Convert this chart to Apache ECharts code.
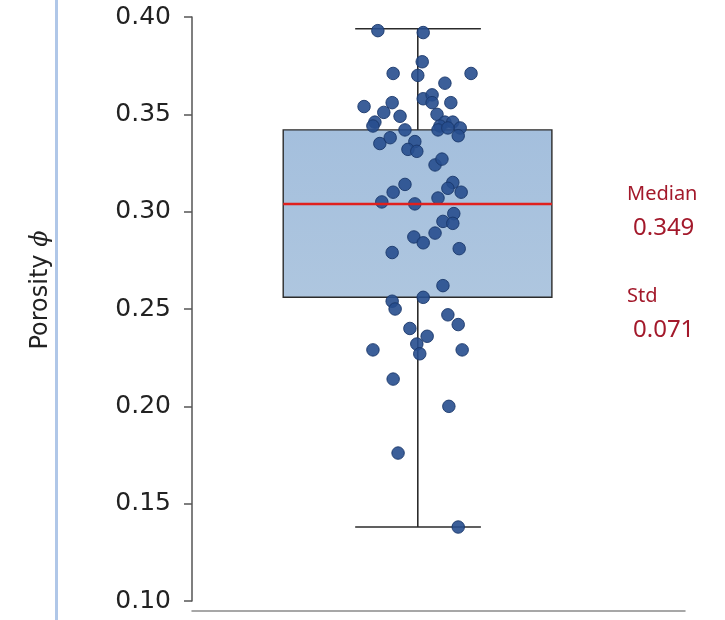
<!DOCTYPE html>
<html>
<head>
<meta charset="utf-8">
<script src="https://cdn.jsdelivr.net/npm/echarts@6/dist/echarts.min.js"></script>
<style>
  html, body { margin: 0; padding: 0; background: #fff; }
  #chart { width: 725px; height: 620px; }
</style>
</head>
<body>
<div id="chart"></div>
<script>
// y axis ticks
const yTicks = [0.10, 0.15, 0.20, 0.25, 0.30, 0.35, 0.40]

// box stats: [lower whisker, Q1, median, Q3, upper whisker]
const boxStats = [0.138, 0.256, 0.304, 0.342, 0.394]

// individual samples (porosity) and their horizontal jitter (0..1 across the plot)
const porosity = [
  0.393, 0.392, 0.377, 0.371, 0.370, 0.371, 0.366, 0.358, 0.360, 0.356,
  0.356, 0.354, 0.356, 0.351, 0.349, 0.346, 0.350, 0.346, 0.346, 0.343,
  0.344, 0.344, 0.342, 0.342, 0.343, 0.339, 0.335, 0.338, 0.336, 0.332,
  0.331, 0.324, 0.327, 0.314, 0.310, 0.305, 0.315, 0.312, 0.310, 0.304,
  0.307, 0.299, 0.295, 0.294, 0.289, 0.287, 0.284, 0.279, 0.281, 0.262,
  0.256, 0.254, 0.250, 0.247, 0.242, 0.240, 0.236, 0.232, 0.227, 0.229,
  0.229, 0.214, 0.200, 0.176, 0.138
]
const jitter = [
  0.377, 0.469, 0.467, 0.408, 0.458, 0.566, 0.513, 0.469, 0.487, 0.487,
  0.525, 0.349, 0.406, 0.389, 0.422, 0.371, 0.497, 0.513, 0.529, 0.544,
  0.503, 0.367, 0.432, 0.499, 0.519, 0.540, 0.381, 0.402, 0.452, 0.438,
  0.456, 0.493, 0.507, 0.432, 0.408, 0.385, 0.529, 0.519, 0.546, 0.452,
  0.499, 0.531, 0.509, 0.529, 0.493, 0.450, 0.469, 0.406, 0.542, 0.509,
  0.469, 0.406, 0.412, 0.519, 0.540, 0.442, 0.477, 0.456, 0.462, 0.367,
  0.548, 0.408, 0.521, 0.418, 0.540
]

const notes = ['Median', '0.349', 'Std', '0.071']

// box layout along the hidden x axis
const boxLeft = 0.185
const boxRight = 0.730
const whiskerX = 0.458
const capLeft = 0.331
const capRight = 0.586

const chart = echarts.init(document.getElementById('chart'))

const points = porosity.map((v, i) => [jitter[i], v])
const noteColor = '#a3192b'

const option = {
  backgroundColor: '#ffffff',
  animation: false,
  grid: { left: 192, right: 40, top: 17, bottom: 19 },
  xAxis: {
    type: 'value',
    min: 0,
    max: 1,
    offset: 10,
    axisLine: { show: true, lineStyle: { color: '#8a8a8a', width: 1.5 } },
    axisTick: { show: false },
    axisLabel: { show: false },
    splitLine: { show: false }
  },
  yAxis: {
    type: 'value',
    min: yTicks[0],
    max: yTicks[yTicks.length - 1],
    interval: 0.05,
    axisLine: { show: true, lineStyle: { color: '#555', width: 1.5 } },
    axisTick: { show: true, length: 8, lineStyle: { color: '#555', width: 1.5 } },
    axisLabel: {
      margin: 21,
      fontFamily: 'DejaVu Sans',
      fontSize: 25,
      color: '#222',
      formatter: v => v.toFixed(2)
    },
    splitLine: { show: false }
  },
  graphic: [
    {
      type: 'rect',
      left: 55, top: 0,
      shape: { width: 3, height: 620 },
      style: { fill: '#b0c7e8' },
      silent: true
    },
    {
      // y axis title
      type: 'text',
      x: 41, y: 290,
      rotation: Math.PI / 2,
      style: {
        text: 'Porosity {i|ϕ}',
        fill: '#222',
        font: '24px "DejaVu Sans"',
        align: 'center',
        verticalAlign: 'middle',
        rich: { i: { fontFamily: 'DejaVu Serif', fontStyle: 'italic', fontSize: 24, fill: '#222' } }
      }
    },
    { type: 'text', left: 627, top: 184, style: { text: notes[0], fill: noteColor, font: '20px "Noto Sans"' } },
    { type: 'text', left: 633, top: 216, style: { text: notes[1], fill: noteColor, font: '24px "Noto Sans"' } },
    { type: 'text', left: 627, top: 286, style: { text: notes[2], fill: noteColor, font: '20px "Noto Sans"' } },
    { type: 'text', left: 633, top: 318, style: { text: notes[3], fill: noteColor, font: '24px "Noto Sans"' } }
  ],
  series: [
    {
      // box and whiskers
      type: 'custom',
      z: 1,
      silent: true,
      data: [boxStats],
      renderItem: (params, api) => {
        const lo = api.coord([whiskerX, boxStats[0]])
        const q1 = api.coord([boxLeft, boxStats[1]])
        const q3 = api.coord([boxRight, boxStats[3]])
        const hi = api.coord([whiskerX, boxStats[4]])
        const capL = api.coord([capLeft, 0])[0]
        const capR = api.coord([capRight, 0])[0]
        const line = { stroke: '#2b2b2b', lineWidth: 1.6 }
        return {
          type: 'group',
          children: [
            { type: 'line', shape: { x1: lo[0], y1: lo[1], x2: lo[0], y2: q1[1] }, style: line },
            { type: 'line', shape: { x1: hi[0], y1: hi[1], x2: hi[0], y2: q3[1] }, style: line },
            { type: 'line', shape: { x1: capL, y1: lo[1], x2: capR, y2: lo[1] }, style: line },
            { type: 'line', shape: { x1: capL, y1: hi[1], x2: capR, y2: hi[1] }, style: line },
            {
              type: 'rect',
              shape: { x: q1[0], y: q3[1], width: q3[0] - q1[0], height: q1[1] - q3[1] },
              style: {
                fill: new echarts.graphic.LinearGradient(0, 0, 0, 1, [
                  { offset: 0, color: '#a4bfdd' },
                  { offset: 1, color: '#aec6df' }
                ]),
                stroke: '#2b2b2b',
                lineWidth: 1.4
              }
            }
          ]
        }
      }
    },
    {
      type: 'scatter',
      z: 2,
      data: points,
      symbolSize: 12.5,
      itemStyle: { color: '#274e8e', opacity: 0.9, borderColor: '#1a376a', borderWidth: 1 }
    },
    {
      // median line on top
      type: 'custom',
      z: 3,
      silent: true,
      data: [boxStats],
      renderItem: (params, api) => {
        const a = api.coord([boxLeft, boxStats[2]])
        const b = api.coord([boxRight, boxStats[2]])
        return {
          type: 'line',
          shape: { x1: a[0], y1: a[1], x2: b[0], y2: b[1] },
          style: { stroke: '#e0201e', lineWidth: 2.5 }
        }
      }
    }
  ]
}

chart.setOption(option)

window.onresize = () => {
  chart.resize()
}
</script>
</body>
</html>
